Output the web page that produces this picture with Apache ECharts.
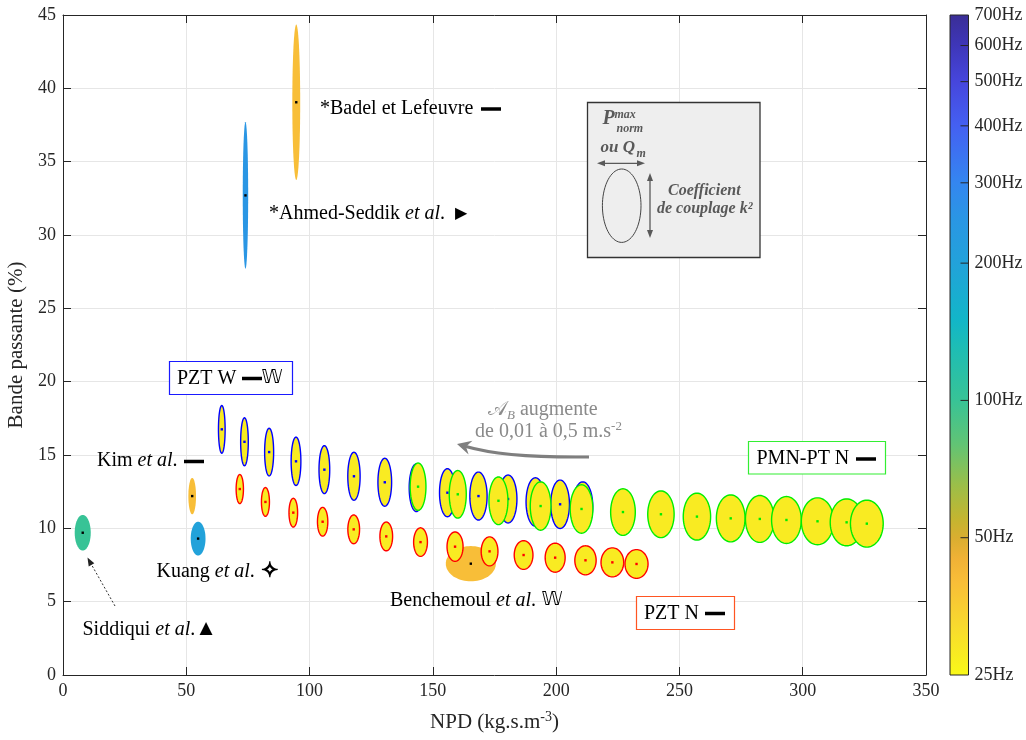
<!DOCTYPE html>
<html><head><meta charset="utf-8">
<script src="https://cdn.jsdelivr.net/npm/echarts@6/dist/echarts.min.js"></script>
<style>html,body{margin:0;padding:0;background:#fff}#c{width:1026px;height:740px}</style>
</head><body><div id="c"></div>
<script>
// ---------- DATA ----------
const xRange = [0, 350], xStep = 50;
const yRange = [0, 45], yStep = 5;
const xAxisTitle = ['NPD (kg.s.m', '-3', ')'];
const yAxisTitle = 'Bande passante (%)';
const cbTickFreqs = [25, 50, 100, 200, 300, 400, 500, 600, 700]; // Hz
const cbRange = [25, 700];

// [NPD, bande passante %, ellipse width (NPD units : Pmax_norm / Qm), ellipse height (% units : k²)]
const pztW = [
  [64.4,16.75,2.7,3.25],[73.6,15.9,3.1,3.27],[83.6,15.2,3.65,3.25],[94.5,14.57,3.95,3.3],
  [106.0,14.0,4.35,3.27],[118.0,13.55,5.0,3.27],[130.5,13.14,5.55,3.27],[143.3,12.77,5.8,3.25],
  [155.9,12.43,6.4,3.27],[168.5,12.2,7.0,3.27],[180.5,12.0,7.2,3.27],[191.6,11.8,7.6,3.3],
  [201.6,11.64,7.6,3.3],[210.8,11.52,8.1,3.3]
];
const pztN = [
  [71.7,12.68,2.96,1.98],[82.1,11.8,3.25,1.96],[93.4,11.07,3.5,1.96],[105.3,10.45,4.2,1.96],
  [117.9,9.93,4.75,1.96],[131.1,9.45,5.15,1.96],[145.0,9.06,5.6,1.95],[159.0,8.75,6.5,2.0],
  [173.0,8.43,6.8,1.98],[186.8,8.18,7.6,1.96],[199.6,8.0,8.1,1.98],[211.9,7.82,8.65,1.98],
  [222.8,7.68,9.2,1.98],[232.6,7.57,9.35,1.96]
];
const pmnPtN = [
  [144.0,12.84,6.4,3.23],[160.1,12.32,6.9,3.25],[176.6,11.88,7.7,3.25],[193.7,11.52,8.4,3.3],
  [210.3,11.32,9.2,3.3],[227.1,11.11,10.0,3.18],[242.5,10.96,10.7,3.18],[257.1,10.8,11.1,3.2],
  [270.8,10.68,11.65,3.2],[282.6,10.64,11.65,3.2],[293.4,10.57,12.06,3.2],[306.0,10.48,13.1,3.2],
  [317.8,10.41,13.3,3.2],[326.0,10.32,13.3,3.2]
];
const seriesFreq = 28; // Hz (colour of PZT W / PZT N / PMN-PT N ellipses)

const studyNames = ['Badel et Lefeuvre', 'Ahmed-Seddik et al.', 'Kim et al.', 'Kuang et al.', 'Siddiqui et al.', 'Benchemoul et al.'];
const studyNPD   = [94.6, 74.0, 52.4, 54.8, 8.0, 165.4];
const studyBW    = [39.05, 32.7, 12.2, 9.3, 9.7, 7.59];
const studyWidth = [3.2, 2.2, 3.1, 6.0, 6.5, 20.3];
const studyHeight= [10.6, 10.0, 2.48, 2.3, 2.43, 2.4];
const studyFreq  = [40, 250, 40, 200, 100, 40];

// ---------- COLOUR MAP (log frequency, 25 Hz -> 700 Hz) ----------
const cmap = [
  [0,[249,249,24]],[0.074,[248,218,46]],[0.141,[248,190,56]],[0.176,[240,178,54]],
  [0.208,[218,174,48]],[0.237,[196,181,48]],[0.287,[156,190,72]],[0.349,[98,196,116]],
  [0.416,[56,195,150]],[0.495,[30,189,180]],[0.538,[18,182,200]],[0.624,[34,162,218]],
  [0.691,[42,150,228]],[0.746,[52,134,240]],[0.832,[68,96,242]],[0.899,[70,70,220]],
  [0.954,[62,54,184]],[1,[58,46,150]]
];
const rgb = c => 'rgb(' + c.map(v => Math.round(v)).join(',') + ')';
function freqColor(f) {
  let t = Math.log(f / cbRange[0]) / Math.log(cbRange[1] / cbRange[0]);
  t = Math.max(0, Math.min(1, t));
  for (let i = 1; i < cmap.length; i++) {
    if (t <= cmap[i][0]) {
      const a = cmap[i - 1], b = cmap[i], u = (t - a[0]) / (b[0] - a[0]);
      return rgb(a[1].map((v, k) => v + (b[1][k] - v) * u));
    }
  }
  return rgb(cmap[cmap.length - 1][1]);
}

// ---------- RENDER ----------
const chart = echarts.init(document.getElementById('c'), null, {renderer: 'canvas'});
const SERIF = '"Liberation Serif", "Times New Roman", serif';
const TXT = '#262626';

function ellipsePts(cx, cy, rx, ry) {
  const pts = [];
  for (let i = 0; i < 72; i++) {
    const a = i / 72 * Math.PI * 2;
    pts.push([cx + rx * Math.cos(a), cy + ry * Math.sin(a)]);
  }
  return pts;
}
function ellipseSeries(name, data, edge, dot, z) {
  return {
    type: 'custom', name, data, z, silent: true, clip: false,
    xAxisIndex: 0, yAxisIndex: 0, encode: {x: 0, y: 1},
    renderItem(params, api) {
      const c = api.coord([api.value(0), api.value(1)]);
      const s = api.size([api.value(2), api.value(3)]);
      const f = api.value(4);
      const fill = freqColor(isNaN(f) ? seriesFreq : f);
      return {type: 'group', children: [
        {type: 'polygon', shape: {points: ellipsePts(c[0], c[1], s[0] / 2, s[1] / 2)},
         style: {fill, stroke: edge || null, lineWidth: edge ? 1.4 : 0}},
        {type: 'rect', shape: {x: c[0] - 1.2, y: c[1] - 1.2, width: 2.4, height: 2.4}, style: {fill: dot}}
      ]};
    }
  };
}
const studies = studyNames.map((n, i) => [studyNPD[i], studyBW[i], studyWidth[i], studyHeight[i], studyFreq[i]]);

const lo = Math.log10(cbRange[0]), hi = Math.log10(cbRange[1]);
const cbStops = cmap.map(([t, c]) => ({offset: 1 - t, color: rgb(c)})).reverse();

const axisCommon = {
  axisLine: {show: true, onZero: false, lineStyle: {color: TXT, width: 1}},
  axisTick: {show: true, inside: true, length: 8, lineStyle: {color: TXT}},
};

const rich = {
  n: {fontFamily: SERIF, fontSize: 20, color: '#000'},
  i: {fontFamily: SERIF, fontSize: 20, fontStyle: 'italic', color: '#000'}
};
function txt(text, x, y, extra) {
  return Object.assign({type: 'text', x, y, silent: true, z: 50,
    style: Object.assign({text, fill: '#000', font: '20px ' + SERIF, rich,
      align: 'left', textAlign: 'left', verticalAlign: 'middle', textVerticalAlign: 'middle'}, extra || {})});
}
function bar(x, y) { return {type: 'rect', z: 50, silent: true, shape: {x, y: y - 1.75, width: 20, height: 3.5}, style: {fill: '#000'}}; }
function box(x, y, w, h, color) {
  return {type: 'rect', z: 49, silent: true, shape: {x, y, width: w, height: h}, style: {fill: '#fff', stroke: color, lineWidth: 1.2}};
}
const LG = '#595959';
const lgFont = s => 'italic bold ' + s + 'px ' + SERIF;

const graphics = [
  txt('*Badel et Lefeuvre', 320, 109), bar(481, 109),
  txt('{n|*Ahmed-Seddik }{i|et al}{n|.}', 269, 214), txt('▶', 455, 214, {font: '16px "DejaVu Sans"'}),
  box(169.5, 361.5, 123, 33, '#1a1aff'), txt('PZT W', 177, 378.5), bar(242, 378.5),
  txt('𝕎', 261.5, 378.5, {font: '19px "DejaVu Sans"'}),
  txt('{n|Kim }{i|et al}{n|.}', 97, 461), bar(184, 461.5),
  txt('{n|Kuang }{i|et al}{n|.}', 156.5, 572), txt('✧', 261, 572, {font: '21px "DejaVu Sans"', stroke: '#000', lineWidth: 1.2}),
  txt('{n|Siddiqui }{i|et al}{n|.}', 82.5, 630), txt('▲', 199.5, 629, {font: '17px "DejaVu Sans"'}),
  {type: 'line', z: 50, silent: true, shape: {x1: 115, y1: 606, x2: 90, y2: 562}, style: {stroke: '#333', lineWidth: 1, lineDash: [2, 2]}},
  {type: 'polygon', z: 50, silent: true, shape: {points: [[87.5, 557.5], [94.3, 563.3], [88.7, 566.5]]}, style: {fill: '#222'}},
  txt('{n|Benchemoul }{i|et al}{n|.}', 390, 600.5), txt('𝕎', 541.5, 600.5, {font: '19px "DejaVu Sans"'}),
  box(636.5, 596.5, 98, 33, '#ff5522'), txt('PZT N', 644, 613.5), bar(705, 613.5),
  box(748.5, 441.5, 137, 32.5, '#33ee33'), txt('PMN-PT N', 756.5, 458.3), bar(856, 459),
  // gray arrow + text
  txt('{s|𝒜}{b|B}{g| augmente}', 488, 410, {fill: '#8a8a8a', rich: {
      s: {fontFamily: SERIF, fontSize: 20, color: '#8a8a8a'},
      b: {fontFamily: SERIF, fontSize: 13, fontStyle: 'italic', color: '#8a8a8a', padding: [12, 0, 0, 0]},
      g: {fontFamily: SERIF, fontSize: 20, color: '#8a8a8a'}}}),
  txt('{g|de 0,01 à 0,5 m.s}{p|-2}', 475, 431.7, {fill: '#8a8a8a', rich: {
      g: {fontFamily: SERIF, fontSize: 20, color: '#8a8a8a'},
      p: {fontFamily: SERIF, fontSize: 13, color: '#8a8a8a', padding: [0, 0, 10, 0]}}}),
  {type: 'bezierCurve', z: 50, silent: true, shape: {x1: 589, y1: 457, x2: 466, y2: 446.5, cpx1: 505, cpy1: 458}, style: {stroke: '#7f7f7f', lineWidth: 3, fill: null}},
  {type: 'polygon', z: 51, silent: true, shape: {points: [[457, 444], [472.4, 440.8], [466, 446.8], [468.6, 454.4]]}, style: {fill: '#7f7f7f'}},
  // legend schematic
  {type: 'rect', z: 48, silent: true, shape: {x: 587.5, y: 102.5, width: 172.5, height: 155}, style: {fill: '#eeeeee', stroke: '#333', lineWidth: 1.3}},
  txt('P', 602.5, 118.5, {fill: LG, font: lgFont(20)}),
  txt('max', 614.5, 114.5, {fill: LG, font: lgFont(12)}),
  txt('norm', 616.5, 128.5, {fill: LG, font: lgFont(12)}),
  txt('ou Q', 600.5, 148, {fill: LG, font: lgFont(17)}),
  txt('m', 636.5, 154, {fill: LG, font: lgFont(12)}),
  {type: 'line', z: 50, silent: true, shape: {x1: 602, y1: 163.3, x2: 640, y2: 163.3}, style: {stroke: LG, lineWidth: 1.3}},
  {type: 'polygon', z: 50, silent: true, shape: {points: [[597, 163.3], [605, 160.3], [605, 166.3]]}, style: {fill: LG}},
  {type: 'polygon', z: 50, silent: true, shape: {points: [[645, 163.3], [637, 160.3], [637, 166.3]]}, style: {fill: LG}},
  {type: 'polygon', z: 50, silent: true, shape: {points: ellipsePts(621.7, 205.7, 19.3, 36.7)}, style: {fill: null, stroke: '#444', lineWidth: 1}},
  {type: 'line', z: 50, silent: true, shape: {x1: 650, y1: 178, x2: 650, y2: 233}, style: {stroke: LG, lineWidth: 1.3}},
  {type: 'polygon', z: 50, silent: true, shape: {points: [[650, 173], [647, 181], [653, 181]]}, style: {fill: LG}},
  {type: 'polygon', z: 50, silent: true, shape: {points: [[650, 238], [647, 230], [653, 230]]}, style: {fill: LG}},
  txt('Coefficient', 668, 191, {fill: LG, font: lgFont(16)}),
  txt('de couplage k²', 657, 209, {fill: LG, font: lgFont(16)})
];

const option = {
  backgroundColor: '#fff',
  animation: false,
  textStyle: {fontFamily: SERIF},
  grid: [
    {left: 63, right: 100, top: 15, bottom: 65, containLabel: false, outerBoundsMode: 'none'},
    {left: 950, width: 18.5, top: 15, bottom: 65, containLabel: false, outerBoundsMode: 'none'}
  ],
  xAxis: [
    Object.assign({type: 'value', gridIndex: 0, position: 'bottom', min: xRange[0], max: xRange[1], interval: xStep,
      axisLabel: {color: TXT, fontSize: 18, fontFamily: SERIF, margin: 7},
      splitLine: {show: true, lineStyle: {color: '#e6e6e6', width: 1}},
      name: '{a|' + xAxisTitle[0] + '}{s|' + xAxisTitle[1] + '}{a|' + xAxisTitle[2] + '}',
      nameLocation: 'middle', nameGap: 35,
      nameTextStyle: {rich: {a: {fontFamily: SERIF, fontSize: 21, color: TXT},
        s: {fontFamily: SERIF, fontSize: 14, color: TXT, padding: [0, 0, 11, 0]}}}}, axisCommon),
    Object.assign({type: 'value', gridIndex: 0, position: 'top', min: xRange[0], max: xRange[1], interval: xStep,
      axisLabel: {show: false}, splitLine: {show: false}}, axisCommon),
    {type: 'value', gridIndex: 1, min: 0, max: 1, show: false}
  ],
  yAxis: [
    Object.assign({type: 'value', gridIndex: 0, position: 'left', min: yRange[0], max: yRange[1], interval: yStep,
      axisLabel: {color: TXT, fontSize: 18, fontFamily: SERIF, margin: 7},
      splitLine: {show: true, lineStyle: {color: '#e6e6e6', width: 1}},
      name: yAxisTitle, nameLocation: 'middle', nameGap: 29,
      nameTextStyle: {fontFamily: SERIF, fontSize: 21, color: TXT}}, axisCommon),
    Object.assign({type: 'value', gridIndex: 0, position: 'right', min: yRange[0], max: yRange[1], interval: yStep,
      axisLabel: {show: false}, splitLine: {show: false}}, axisCommon),
    {type: 'value', gridIndex: 1, min: lo, max: hi, show: false}
  ],
  graphic: graphics,
  series: [
    ellipseSeries('Études', studies, null, '#000', 2),
    ellipseSeries('PZT N', pztN, '#ff0000', '#ff0000', 3),
    ellipseSeries('PZT W', pztW, '#0000ff', '#0000ff', 4),
    ellipseSeries('PMN-PT N', pmnPtN, '#00ee00', '#00ee00', 5),
    {
      type: 'custom', name: 'colorbar', xAxisIndex: 2, yAxisIndex: 2, silent: true, clip: false,
      data: [[0, lo, 1, hi]],
      renderItem(params, api) {
        const tl = api.coord([api.value(0), api.value(3)]);
        const br = api.coord([api.value(2), api.value(1)]);
        return {type: 'rect', shape: {x: tl[0], y: tl[1], width: br[0] - tl[0], height: br[1] - tl[1]},
          style: {fill: new echarts.graphic.LinearGradient(0, 0, 0, 1, cbStops), stroke: TXT, lineWidth: 1}};
      }
    },
    {
      type: 'custom', name: 'colorbar-ticks', xAxisIndex: 2, yAxisIndex: 2, silent: true, clip: false, z: 10,
      data: cbTickFreqs.map(f => [1, Math.log10(f), f]),
      renderItem(params, api) {
        const p = api.coord([api.value(0), api.value(1)]);
        const f = api.value(2);
        const children = [{type: 'text', x: p[0] + 6, y: p[1],
          style: {text: f + 'Hz', fill: TXT, font: '18px ' + SERIF, align: 'left', textAlign: 'left',
            verticalAlign: 'middle', textVerticalAlign: 'middle'}}];
        if (f !== cbRange[0] && f !== cbRange[1]) {
          children.push({type: 'line', shape: {x1: p[0] - 8, y1: p[1], x2: p[0], y2: p[1]}, style: {stroke: TXT, lineWidth: 1}});
        }
        return {type: 'group', children};
      }
    }
  ]
};
chart.setOption(option);
</script>
</body></html>
